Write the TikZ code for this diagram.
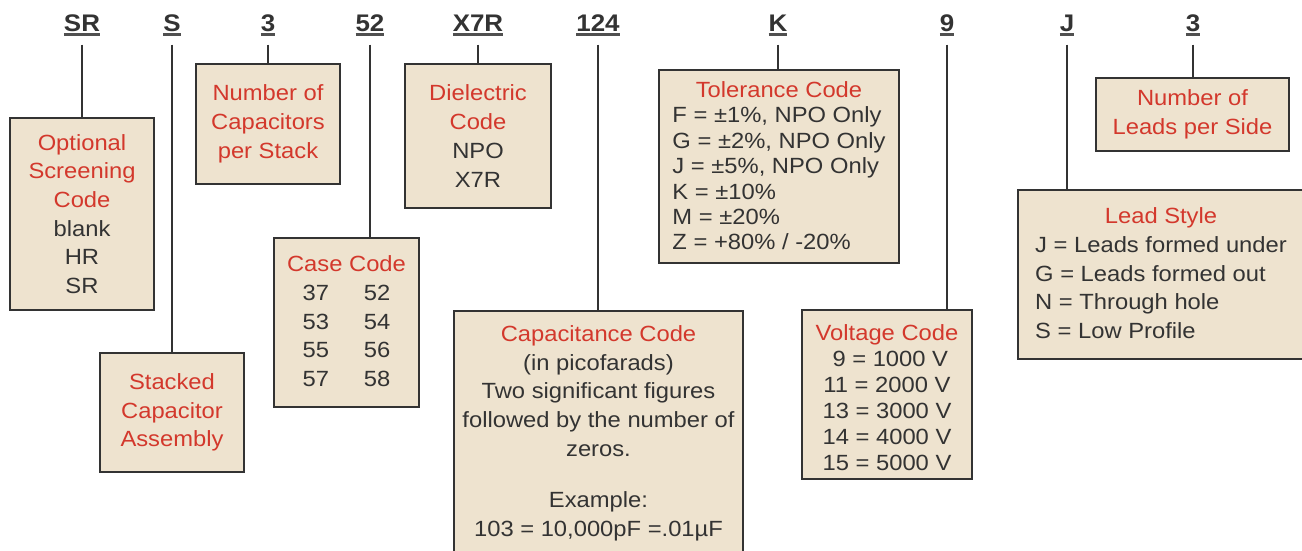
\documentclass[tikz,border=0pt]{standalone}
\usepackage{fontspec}
\setmainfont{Liberation Sans}[FakeStretch=1.08]
\usetikzlibrary{positioning}

\definecolor{boxfill}{RGB}{238,227,207}
\definecolor{boxline}{RGB}{51,51,51}
\definecolor{codered}{RGB}{211,56,44}
\definecolor{bodygray}{RGB}{51,51,51}
\definecolor{ulgray}{RGB}{80,80,80}

\newcommand{\hd}[1]{\textcolor{codered}{#1}}
\newcommand{\padb}[1][9pt]{\rule[-#1]{0pt}{#1}}
\newcommand{\padt}[1][22pt]{\rule{0pt}{#1}}
\newcommand{\codeul}[1]{\sbox0{#1}\usebox0\llap{\textcolor{ulgray}{\rule[-4.5pt]{\wd0}{2.5pt}}}}

\begin{document}
\begin{tikzpicture}[
		x=1pt, y=-1pt,
		code/.style={anchor=base, inner sep=0pt, text=bodygray, font=\fontsize{24}{24}\selectfont\bfseries},
		box/.style={draw=boxline, line width=2.2pt, fill=boxfill, align=center, inner sep=0pt, text=bodygray, font=\fontsize{22}{28.7}\selectfont},
		conn/.style={draw=boxline, line width=2pt, shorten <=9pt}
		]
		\useasboundingbox (0,0) rectangle (1302,550);
		
		% Part number
		\node[code] (lbSR) at (82,31) {\codeul{SR}};
		\node[code] (lbS) at (172,31) {\codeul{S}};
		\node[code] (lbCount) at (268,31) {\codeul{3}};
		\node[code] (lbCase) at (370,31) {\codeul{52}};
		\node[code] (lbDiel) at (478,31) {\codeul{X7R}};
		\node[code] (lbCap) at (598,31) {\codeul{124}};
		\node[code] (lbTol) at (778,31) {\codeul{K}};
		\node[code] (lbVolt) at (947,31) {\codeul{9}};
		\node[code] (lbLead) at (1067,31) {\codeul{J}};
		\node[code] (lbSide) at (1193,31) {\codeul{3}};
		
		% Screening
		\node[box, minimum width=144pt, minimum height=192pt] (screen) at (82,214)
			{\hd{Optional}\\\hd{Screening}\\\hd{Code}\\blank\\HR\\SR};
		
		% Stacked assembly
		\node[box, minimum width=144pt, minimum height=119pt] (stack) at (172,412.5)
			{\hd{Stacked}\\\hd{Capacitor}\\\hd{Assembly}};
		
		% Capacitors per stack
		\node[box, minimum width=144pt, minimum height=120pt] (count) at (268,124)
			{\hd{Number of}\\\hd{Capacitors}\\\hd{per Stack}};
		
		% Case code
		\node[box, minimum width=145pt, minimum height=169pt] (casecode) at (346.5,322.5)
			{\padt\hd{Case Code}\\\begin{tabular}[t]{@{}c@{\hspace{35pt}}c@{}}
				37 & 52\\ 53 & 54\\ 55 & 56\\ 57 & 58
			\end{tabular}};
		
		% Dielectric
		\node[box, minimum width=146pt, minimum height=144pt] (dielec) at (478,136)
			{\hd{Dielectric}\\\hd{Code}\\NPO\\X7R};
		
		% Capacitance
		\node[box, minimum width=289pt, minimum height=249pt] (capcode) at (598.5,435.5)
			{\hd{Capacitance Code}\\(in picofarads)\\Two significant figures\\followed by the number of\\zeros.\\[23pt]Example:\\103 = 10,000pF =.01µF\padb};
		
		% Tolerance
		\node[box, minimum width=240pt, minimum height=193pt, font=\fontsize{22}{25.4}\selectfont] (tolcode) at (779,166.5)
			{\padt\hd{Tolerance Code}\\\begin{tabular}[t]{@{}l@{}}
				F = ±1\%, NPO Only\\ G = ±2\%, NPO Only\\ J = ±5\%, NPO Only\\
				K = ±10\%\\ M = ±20\%\\ Z = +80\% / -20\%
			\end{tabular}};
		
		% Voltage
		\node[box, minimum width=170pt, minimum height=169pt, font=\fontsize{22}{26}\selectfont] (voltcode) at (887,394.5)
			{\padt[23pt]\hd{Voltage Code}\\~9 = 1000 V\\11 = 2000 V\\13 = 3000 V\\14 = 4000 V\\15 = 5000 V};
		
		% Lead style
		\node[box, minimum width=286pt, minimum height=169pt] (leadstyle) at (1161,274.5)
			{\padt\hd{Lead Style}\\\begin{tabular}[t]{@{}l@{}}
				J = Leads formed under\\ G = Leads formed out\\ N = Through hole\\ S = Low Profile
			\end{tabular}};
		
		% Leads per side
		\node[box, minimum width=193pt, minimum height=73pt] (leadcount) at (1192.5,114.5)
			{\hd{Number of}\\\hd{Leads per Side}};
		
		% Connectors
		\draw[conn] (lbSR.south) -- (lbSR.south |- screen.north);
		\draw[conn] (lbS.south) -- (lbS.south |- stack.north);
		\draw[conn] (lbCount.south) -- (lbCount.south |- count.north);
		\draw[conn] (lbCase.south) -- (lbCase.south |- casecode.north);
		\draw[conn] (lbDiel.south) -- (lbDiel.south |- dielec.north);
		\draw[conn] (lbCap.south) -- (lbCap.south |- capcode.north);
		\draw[conn] (lbTol.south) -- (lbTol.south |- tolcode.north);
		\draw[conn] (lbVolt.south) -- (lbVolt.south |- voltcode.north);
		\draw[conn] (lbLead.south) -- (lbLead.south |- leadstyle.north);
		\draw[conn] (lbSide.south) -- (lbSide.south |- leadcount.north);
		
	\end{tikzpicture}
\end{document}
